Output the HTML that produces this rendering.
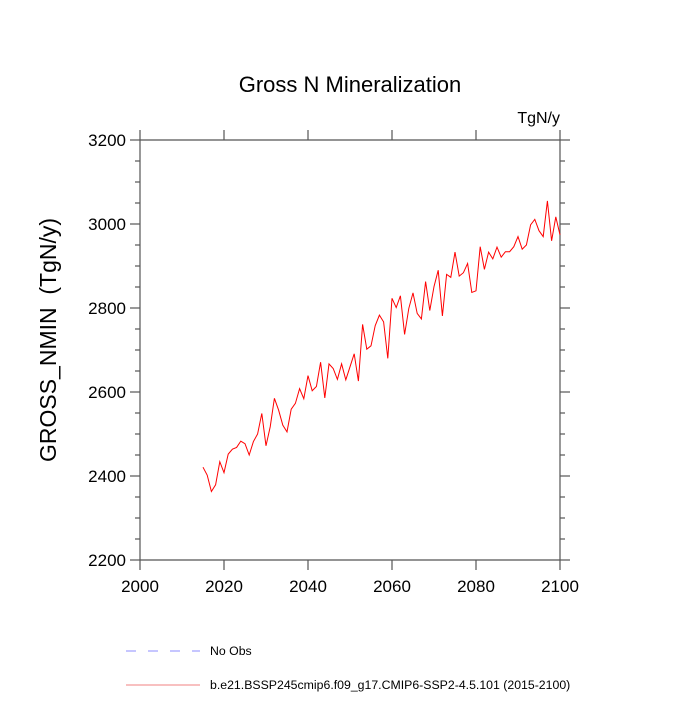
<!DOCTYPE html>
<html><head><meta charset="utf-8"><style>
body{margin:0;background:#fff}
svg text{font-family:"Liberation Sans",sans-serif;fill:#000}
</style></head><body>
<svg id="c" width="700" height="700" viewBox="0 0 700 700">
<text x="350" y="92" font-size="22" text-anchor="middle">Gross N Mineralization</text>
<text x="560" y="123" font-size="16" text-anchor="end">TgN/y</text>
<text transform="translate(56,340) rotate(-90)" font-size="23" text-anchor="middle">GROSS_NMIN&#160;&#160;(TgN/y)</text>
<g id="axes"></g>
<polyline id="series" fill="none" stroke="#ff0000" stroke-width="1"/>
<line x1="126" y1="651" x2="200" y2="651" stroke="#8c8cff" stroke-width="1" stroke-dasharray="10,12"/>
<text x="210" y="655" font-size="12.3">No Obs</text>
<line x1="126" y1="685" x2="200" y2="685" stroke="#f08080" stroke-width="1"/>
<text x="210" y="689" font-size="12.3">b.e21.BSSP245cmip6.f09_g17.CMIP6-SSP2-4.5.101 (2015-2100)</text>
</svg>
<script>
const years=[2015,2016,2017,2018,2019,2020,2021,2022,2023,2024,2025,2026,2027,2028,2029,2030,2031,2032,2033,2034,2035,2036,2037,2038,2039,2040,2041,2042,2043,2044,2045,2046,2047,2048,2049,2050,2051,2052,2053,2054,2055,2056,2057,2058,2059,2060,2061,2062,2063,2064,2065,2066,2067,2068,2069,2070,2071,2072,2073,2074,2075,2076,2077,2078,2079,2080,2081,2082,2083,2084,2085,2086,2087,2088,2089,2090,2091,2092,2093,2094,2095,2096,2097,2098,2099,2100];
const values=[2421,2402,2363,2379,2434,2408,2452,2464,2468,2483,2477,2450,2482,2500,2549,2472,2517,2585,2557,2521,2505,2559,2573,2608,2584,2639,2603,2613,2671,2586,2667,2656,2630,2667,2629,2660,2691,2626,2761,2702,2710,2758,2783,2767,2680,2823,2801,2829,2737,2799,2836,2787,2774,2863,2794,2851,2890,2781,2880,2873,2933,2876,2884,2906,2837,2841,2946,2892,2933,2917,2945,2921,2934,2934,2946,2970,2940,2950,2998,3011,2984,2970,3055,2960,3017,2974];
const xTicks=[2000,2020,2040,2060,2080,2100];
const yTicks=[2200,2400,2600,2800,3000,3200];
const X0=140,X1=560,Y0=140,Y1=560;
const xs=v=>X0+(v-2000)/100*(X1-X0);
const ys=v=>Y1-(v-2200)/1000*(Y1-Y0);
const NS='http://www.w3.org/2000/svg';
const g=document.getElementById('axes');
function ln(x1,y1,x2,y2,name){const l=document.createElementNS(NS,'line');l.setAttribute('x1',x1);l.setAttribute('y1',y1);l.setAttribute('x2',x2);l.setAttribute('y2',y2);l.setAttribute('stroke','#555');l.setAttribute('stroke-width','1.2');


g.appendChild(l);}
function tx(x,y,s,anchor,name){const t=document.createElementNS(NS,'text');t.setAttribute('x',x);t.setAttribute('y',y);t.setAttribute('font-size','17');t.setAttribute('text-anchor',anchor);t.textContent=s;


g.appendChild(t);}
ln(X0,Y0,X1,Y0,'plot-frame-top');ln(X0,Y1,X1,Y1,'plot-frame-bottom');ln(X0,Y0,X0,Y1,'plot-frame-left');ln(X1,Y0,X1,Y1,'plot-frame-right');
xTicks.forEach(v=>{const x=xs(v);ln(x,Y1,x,Y1+10,'x-tick');ln(x,Y0,x,Y0-10,'x-tick-top');tx(x,Y1+32,v,'middle','x-tick-label');});
yTicks.forEach(v=>{const y=ys(v);ln(X0-10,y,X0,y,'y-tick');ln(X1,y,X1+10,y,'y-tick-right');tx(X0-14,y+6,v,'end','y-tick-label');});
for(let v=2250;v<3200;v+=50){if(v%200===0)continue;const y=ys(v);ln(X0-5,y,X0,y,'y-minor-tick');ln(X1,y,X1+5,y,'y-minor-tick-right');}
document.getElementById('series').setAttribute('points',years.map((yr,i)=>xs(yr)+','+ys(values[i])).join(' '));
</script>
</body></html>
